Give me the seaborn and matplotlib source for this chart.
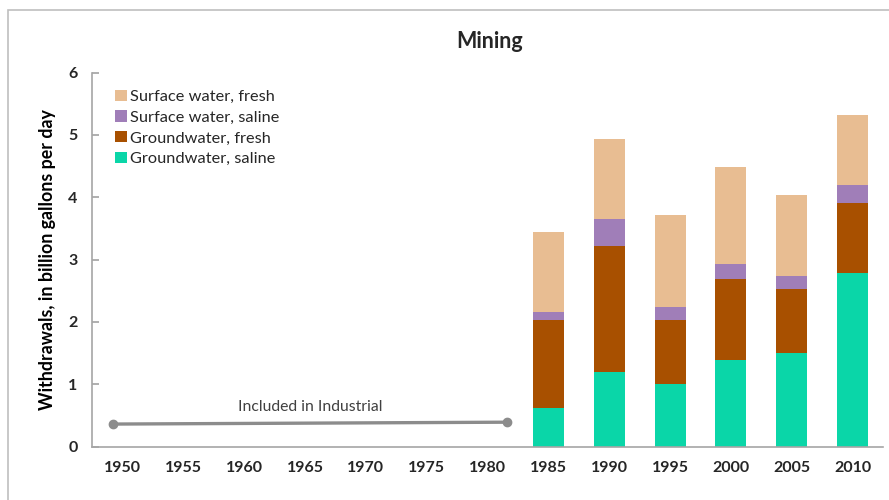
import matplotlib
matplotlib.use("Agg")
import matplotlib.pyplot as plt
import seaborn as sns
import pandas as pd
import numpy as np
from matplotlib.patches import Rectangle

# ---- data ----
years = ["1950", "1955", "1960", "1965", "1970", "1975", "1980",
         "1985", "1990", "1995", "2000", "2005", "2010"]
bar_years = ["1985", "1990", "1995", "2000", "2005", "2010"]
groundwater_saline = [0.61, 1.20, 1.00, 1.38, 1.50, 2.78]
groundwater_fresh = [1.42, 2.02, 1.03, 1.30, 1.03, 1.12]
surface_saline = [0.13, 0.43, 0.20, 0.24, 0.20, 0.29]
surface_fresh = [1.28, 1.28, 1.48, 1.57, 1.30, 1.13]
series_names = ["Groundwater, saline", "Groundwater, fresh",
                "Surface water, saline", "Surface water, fresh"]
series_colors = ["#0AD6A8", "#A85000", "#A07EB8", "#E8BD92"]
line_years = [1949.25, 1981.6]
line_values = [0.36, 0.39]
note_text = "Included in Industrial"

sns.set_theme(style="white")
plt.rcParams["font.family"] = ["Lato", "DejaVu Sans"]

fig = plt.figure(figsize=(8.89, 5.0), dpi=100)
ax = fig.add_axes([92 / 889, 1 - 446.5 / 500, (883 - 92) / 889, (446.5 - 72.5) / 500])

# outer chart-area frame
fig.patches.append(Rectangle((8 / 889, -0.1), 1.2, 1 - 10 / 500 + 0.1,
                             transform=fig.transFigure, fill=False,
                             edgecolor="#BFBFBF", linewidth=1.2, zorder=0))

df = pd.DataFrame({"year": bar_years,
                   series_names[0]: groundwater_saline,
                   series_names[1]: groundwater_fresh,
                   series_names[2]: surface_saline,
                   series_names[3]: surface_fresh})
layers = df[series_names].cumsum(axis=1)

# draw cumulative stacks from top layer down
for name, color in reversed(list(zip(series_names, series_colors))):
    sns.barplot(x=df["year"], y=layers[name], order=years, color=color,
                width=0.51, linewidth=0, saturation=1, ax=ax, label=name)

# "Included in Industrial" line
line_pos = [(y - 1950) / 5 for y in line_years]
ax.plot(line_pos, line_values, color="#8C8C8C", linewidth=2.4,
        marker="o", markersize=6, solid_capstyle="round", zorder=3)
ax.text((1965.4 - 1950) / 5, 0.64, note_text, ha="center", va="center",
        fontsize=11.3, color="#404040")

ax.set_xlim(-0.5, 12.5)
ax.set_ylim(0, 6)
ax.set_yticks(range(0, 7))
ax.set_xlabel("")
ax.set_ylabel("Withdrawals, in billion gallons per day", fontsize=12.8,
              fontweight="bold", color="#000000", labelpad=9)
ax.set_title("Mining", fontsize=15.5, fontweight="bold", pad=18, x=(490 - 92) / 791)

for s in ["top", "right"]:
    ax.spines[s].set_visible(False)
for s in ["left", "bottom"]:
    ax.spines[s].set_color("#A6A6A6")
    ax.spines[s].set_linewidth(1.2)
ax.tick_params(axis="y", direction="in", length=5, color="#A6A6A6",
               labelsize=11.5, pad=10.5, left=True)
ax.tick_params(axis="x", length=0, labelsize=11.5, pad=10.5)
for lab in ax.get_xticklabels() + ax.get_yticklabels():
    lab.set_fontweight("bold")

handles, labels = ax.get_legend_handles_labels()
ax.legend(handles, labels, loc="upper left", bbox_to_anchor=(0.015, 0.985),
          frameon=False, fontsize=11.8, handlelength=0.7, handleheight=0.7,
          handletextpad=0.2, labelspacing=0.38, borderpad=0.2)

fig.savefig("out.png", dpi=100)
